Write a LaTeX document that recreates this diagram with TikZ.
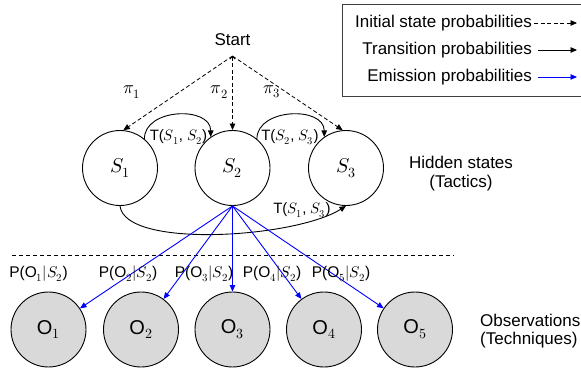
\documentclass[tikz,border=0pt]{standalone}
\usepackage{fontspec}
\usepackage{unicode-math}
\setmainfont{Liberation Sans}
\usetikzlibrary{arrows.meta}

\tikzset{
  px/.style={x=1pt,y=1pt},
  tip/.style={-{Triangle[length=6.5pt,width=5.5pt]}},
  state/.style={circle,draw,line width=0.9pt,minimum size=75pt,inner sep=0pt,
                font=\fontsize{20}{22}\selectfont},
  obs/.style={state,fill=obsgray},
  initarrow/.style={tip,line width=0.8pt,dash pattern=on 4pt off 2.5pt},
  transarrow/.style={tip,line width=0.9pt},
  emitarrow/.style={tip,line width=0.9pt,draw=emitblue},
  lbl/.style={inner sep=0pt,font=\fontsize{15}{17}\selectfont},
  plbl/.style={inner sep=0pt,font=\fontsize{15.5}{17}\selectfont},
  pilbl/.style={inner sep=0pt,font=\fontsize{18}{20}\selectfont},
  txt/.style={inner sep=0pt,font=\fontsize{17}{20}\selectfont},
}
\definecolor{obsgray}{HTML}{D9D9D9}
\definecolor{emitblue}{HTML}{0000FF}

\begin{document}
\begin{tikzpicture}[px]
  \useasboundingbox (0,0) rectangle (581,373);

  % legend (its right side runs off the page edge)
  \draw[line width=0.9pt,draw=black!75] (342,369) -- (582,369)
        (342,369) -- (342,276.5) -- (582,276.5);
  \node[txt,anchor=east] (lgi) at (532,350) {Initial state probabilities};
  \node[txt,anchor=east] (lgt) at (532,323) {Transition probabilities};
  \node[txt,anchor=east] (lge) at (532,296) {Emission probabilities};
  \coordinate (lgiA) at (534,350);  \coordinate (lgiB) at (577,350);
  \coordinate (lgtA) at (538,323);  \coordinate (lgtB) at (577,323);
  \coordinate (lgeA) at (538,296);  \coordinate (lgeB) at (577,296);
  \draw[initarrow] (lgiA) -- (lgiB);
  \draw[transarrow] (lgtA) -- (lgtB);
  \draw[emitarrow] (lgeA) -- (lgeB);

  % start and hidden states
  \node[txt] (start) at (232.5,333) {Start};
  \coordinate (st) at (232.5,317);
  \node[state] (S1) at (120,205) {$S_1$};
  \node[state] (S2) at (232.5,205) {$S_2$};
  \node[state] (S3) at (346,205) {$S_3$};

  % initial state probabilities
  \draw[initarrow] (st) -- (S1.85);
  \draw[initarrow,{Straight Barb[length=2.5pt,width=5pt]}-{Triangle[length=6.5pt,width=5.5pt]}] (st) -- (S2.north);
  \draw[initarrow] (st) -- (S3.95);
  \node[pilbl] (pi1) at (132,281) {$\pi_1$};
  \node[pilbl] (pi2) at (219.5,281) {$\pi_2$};
  \node[pilbl] (pi3) at (272,281) {$\pi_3$};

  % transitions
  \draw[transarrow] (S1.50) .. controls +(0,31) and +(0,31) .. (S2.125);
  \draw[transarrow] (S2.50) .. controls +(0,31) and +(0,31) .. (S3.125);
  \draw[transarrow] (S1.south) .. controls (125,124) and (295,135) .. (S3.south);
  \node[lbl] (t12) at (178.5,236) {T($S_1$, $S_2$)};
  \node[lbl] (t23) at (290,236) {T($S_2$, $S_3$)};
  \node[lbl] (t13) at (302,163) {T($S_1$, $S_3$)};

  \node[txt] (hs1) at (461,211) {Hidden states};
  \node[txt] (hs2) at (461,190) {(Tactics)};

  % separator
  \coordinate (sepA) at (12,118);
  \coordinate (sepB) at (454,118);
  \draw[line width=0.8pt,dash pattern=on 4pt off 3pt] (sepA) -- (sepB);

  % observations
  \node[obs] (O1) at (48.5,43.5) {$\mathrm{O}_1$};
  \node[obs] (O2) at (141,43.5) {$\mathrm{O}_2$};
  \node[obs] (O3) at (232.5,43.5) {$\mathrm{O}_3$};
  \node[obs] (O4) at (324,43.5) {$\mathrm{O}_4$};
  \node[obs] (O5) at (415,43.5) {$\mathrm{O}_5$};

  \foreach \o in {O1,O2,O3,O4,O5}
    \draw[emitarrow] (S2.south) -- (\o);

  \node[plbl] (p1) at (38.5,99) {P($\mathrm{O}_1|S_2$)};
  \node[plbl] (p2) at (128,99) {P($\mathrm{O}_2|S_2$)};
  \node[plbl] (p3) at (204,99) {P($\mathrm{O}_3|S_2$)};
  \node[plbl] (p4) at (272,99) {P($\mathrm{O}_4|S_2$)};
  \node[plbl] (p5) at (341,99) {P($\mathrm{O}_5|S_2$)};

  \node[txt,anchor=west] (ob1) at (480,53) {Observations};
  \node[txt,anchor=west] (ob2) at (480,33) {(Techniques)};
\end{tikzpicture}
\end{document}
